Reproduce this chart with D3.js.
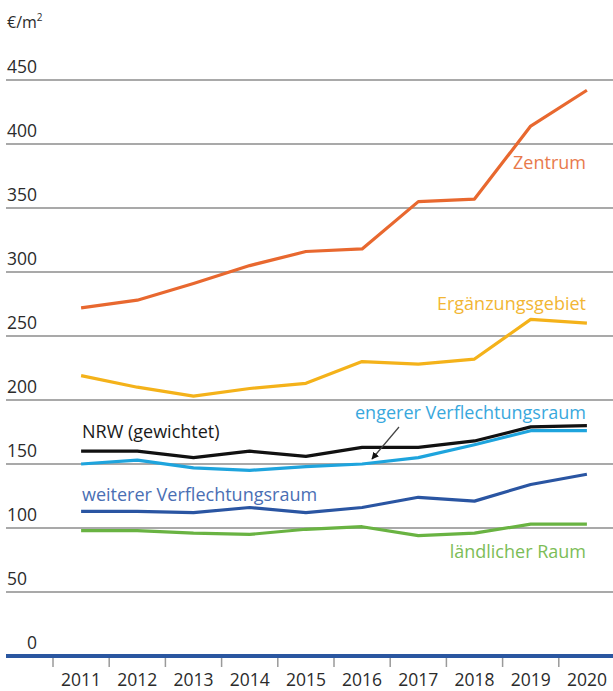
<!DOCTYPE html>
<html>
<head>
<meta charset="utf-8">
<script src="https://cdn.jsdelivr.net/npm/d3@7/dist/d3.min.js"></script>
<style>
  html, body { margin: 0; padding: 0; background: #fff; }
  svg { display: block; font-family: "Open Sans", "Noto Sans", sans-serif; }
</style>
</head>
<body>
<svg id="chart" width="613" height="691"></svg>
<script>
// Bodenrichtwerte (€/m²) nach Raumtyp, 2011–2020
const years = ["2011","2012","2013","2014","2015","2016","2017","2018","2019","2020"];
const yTicks = [0, 50, 100, 150, 200, 250, 300, 350, 400, 450];

const zentrum      = [272, 278, 291, 305, 316, 318, 355, 357, 414, 442];
const ergaenzung   = [219, 210, 203, 209, 213, 230, 228, 232, 263, 260];
const nrw          = [160, 160, 155, 160, 156, 163, 163, 168, 179, 180];
const engerer      = [150, 153, 147, 145, 148, 150, 155, 165, 176, 176];
const weiterer     = [113, 113, 112, 116, 112, 116, 124, 121, 134, 142];
const laendlich    = [98, 98, 96, 95, 99, 101, 94, 96, 103, 103];

const series = [
  { name: "Zentrum",                    values: zentrum,    color: "#e8682f", text: "#e87a4c" },
  { name: "Ergänzungsgebiet",           values: ergaenzung, color: "#f4b21a", text: "#f2b634" },
  { name: "ländlicher Raum",            values: laendlich,  color: "#69b342", text: "#7cbd57" },
  { name: "weiterer Verflechtungsraum", values: weiterer,   color: "#2a55a2", text: "#4a6fb4" },
  { name: "engerer Verflechtungsraum",  values: engerer,    color: "#1ea4dd", text: "#39a8dd" },
  { name: "NRW (gewichtet)",            values: nrw,        color: "#111111", text: "#1a1a1a" }
];

const svg = d3.select("#chart");

const x = d3.scaleBand().domain(years).range([53, 615]);
const y = d3.scaleLinear().domain([0, 450]).range([656, 80]);
const cx = d => x(d) + x.bandwidth() / 2;

// horizontal grid lines with labels above them
const grid = svg.append("g");
yTicks.filter(v => v > 0).forEach(v => {
  grid.append("line")
    .attr("x1", 6).attr("x2", 613)
    .attr("y1", y(v)).attr("y2", y(v))
    .attr("stroke", "#a9a9a9").attr("stroke-width", 2);
});
yTicks.forEach(v => {
  grid.append("text")
    .attr("x", v === 0 ? 27 : 7).attr("y", y(v) - 7)
    .attr("font-size", 17.5).attr("fill", "#2b2b2b")
    .text(v);
});

// unit label
const unit = svg.append("text").attr("x", 7).attr("y", 28)
  .attr("font-size", 16).attr("fill", "#2b2b2b");
unit.append("tspan").text("€/m");
unit.append("tspan").attr("font-size", 10).attr("dy", -7).text("2");

// x axis: year ticks at band edges, blue base line
const xAxis = svg.append("g");
years.forEach(yr => {
  xAxis.append("line")
    .attr("x1", x(yr)).attr("x2", x(yr))
    .attr("y1", 656).attr("y2", 667)
    .attr("stroke", "#9a9a9a").attr("stroke-width", 1.5);
  xAxis.append("text")
    .attr("x", cx(yr)).attr("y", 686)
    .attr("text-anchor", "middle")
    .attr("font-size", 17.5).attr("fill", "#2b2b2b")
    .text(yr);
});
xAxis.append("line")
  .attr("x1", 6).attr("x2", 613)
  .attr("y1", 656).attr("y2", 656)
  .attr("stroke", "#2a56a0").attr("stroke-width", 4);

// series lines
const line = d3.line()
  .x((d, i) => cx(years[i]))
  .y(d => y(d));

svg.append("g").selectAll("path")
  .data(series)
  .join("path")
  .attr("d", s => line(s.values))
  .attr("fill", "none")
  .attr("stroke", s => s.color)
  .attr("stroke-width", 3.2)
  .attr("stroke-linejoin", "round");

// direct labels
const labelPos = {
  "Zentrum":                    { x: 586, y: 169, anchor: "end" },
  "Ergänzungsgebiet":           { x: 586, y: 310, anchor: "end" },
  "engerer Verflechtungsraum":  { x: 586, y: 419, anchor: "end" },
  "NRW (gewichtet)":            { x: 82,  y: 438, anchor: "start" },
  "weiterer Verflechtungsraum": { x: 82,  y: 501, anchor: "start" },
  "ländlicher Raum":            { x: 586, y: 558, anchor: "end" }
};
svg.append("g").selectAll("text")
  .data(series)
  .join("text")
  .attr("x", s => labelPos[s.name].x)
  .attr("y", s => labelPos[s.name].y)
  .attr("text-anchor", s => labelPos[s.name].anchor)
  .attr("font-size", 18)
  .attr("fill", s => s.text)
  .text(s => s.name);

// pointer from the "engerer" label to its line
svg.append("defs").append("marker")
  .attr("id", "arrow")
  .attr("viewBox", "0 0 10 10")
  .attr("refX", 9).attr("refY", 5)
  .attr("markerWidth", 6).attr("markerHeight", 6)
  .attr("orient", "auto")
  .append("path").attr("d", "M0,0 L10,5 L0,10 Z").attr("fill", "#111");

svg.append("line")
  .attr("x1", 399).attr("y1", 427)
  .attr("x2", 372).attr("y2", 459)
  .attr("stroke", "#444").attr("stroke-width", 1.2)
  .attr("marker-end", "url(#arrow)");
</script>
</body>
</html>
